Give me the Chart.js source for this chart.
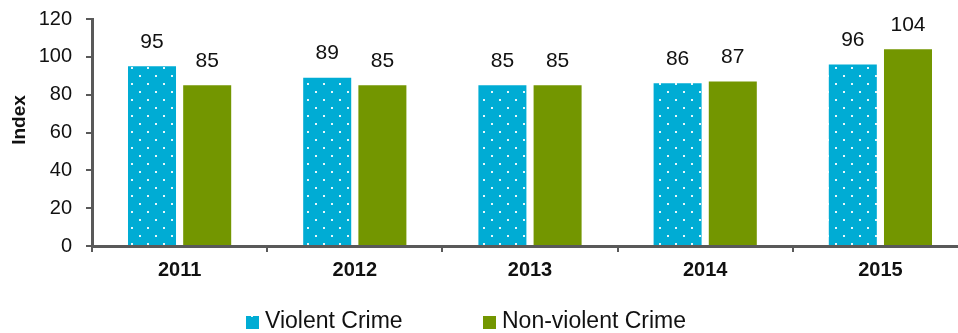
<!DOCTYPE html>
<html>
<head>
<meta charset="utf-8">
<script src="https://cdn.jsdelivr.net/npm/chart.js@4/dist/chart.umd.min.js"></script>
<style>
  html, body { margin: 0; padding: 0; background: #ffffff; overflow: hidden; }
  #wrap { position: relative; width: 968px; height: 333px; }
</style>
</head>
<body>
<div id="wrap"><canvas id="crimeChart"></canvas></div>
<script>
const years = ["2011", "2012", "2013", "2014", "2015"];
const violentCrime = [95, 89, 85, 86, 96];
const nonViolentCrime = [85, 85, 85, 87, 104];
const yTicks = [0, 20, 40, 60, 80, 100, 120];
const yTitle = "Index";

const FONT = "'Liberation Sans', Arial, sans-serif";
const AXIS_COLOR = "#595959";
const TEXT_COLOR = "#111111";

// cyan fill with a staggered grid of small white dots
function createDotPattern() {
  const tile = document.createElement("canvas");
  tile.width = 16;
  tile.height = 16;
  const ctx = tile.getContext("2d");
  ctx.fillStyle = "#00acd4";
  ctx.fillRect(0, 0, 16, 16);
  ctx.fillStyle = "rgba(255, 255, 255, 0.9)";
  ctx.fillRect(3, 3, 2, 2);
  ctx.fillRect(11, 11, 2, 2);
  return document.createElement("canvas").getContext("2d").createPattern(tile, "repeat");
}

const dotPattern = createDotPattern();

// value above every bar
const valueLabels = {
  id: "valueLabels",
  afterDatasetsDraw(chart) {
    const ctx = chart.ctx;
    ctx.save();
    ctx.font = `21px ${FONT}`;
    ctx.fillStyle = TEXT_COLOR;
    ctx.textAlign = "center";
    ctx.textBaseline = "bottom";
    chart.data.datasets.forEach((ds, i) => {
      chart.getDatasetMeta(i).data.forEach((bar, j) => {
        ctx.fillText(String(ds.data[j]), bar.x, bar.y - 14);
      });
    });
    ctx.restore();
  },
};

// rotated axis title, sitting a bit above the middle of the axis
const axisTitle = {
  id: "axisTitle",
  afterDraw(chart) {
    const ctx = chart.ctx;
    ctx.save();
    ctx.translate(20, 120);
    ctx.rotate(-Math.PI / 2);
    ctx.font = `bold 19px ${FONT}`;
    ctx.fillStyle = TEXT_COLOR;
    ctx.textAlign = "center";
    ctx.textBaseline = "middle";
    ctx.fillText(yTitle, 0, 0);
    ctx.restore();
  },
};

// legend row under the axis
const bottomLegend = {
  id: "bottomLegend",
  afterDraw(chart) {
    const ctx = chart.ctx;
    const starts = [246, 483];
    ctx.save();
    ctx.font = `23px ${FONT}`;
    ctx.textBaseline = "middle";
    ctx.textAlign = "left";
    chart.data.datasets.forEach((ds, i) => {
      const x = starts[i];
      ctx.fillStyle = ds.backgroundColor;
      ctx.fillRect(x, 316, 13, 13);
      ctx.fillStyle = TEXT_COLOR;
      ctx.fillText(ds.label, x + 19, 322);
    });
    ctx.restore();
  },
};

function createChart(id) {
  const ctx = document.getElementById(id).getContext("2d");
  return new Chart(ctx, {
    type: "bar",
    data: {
      labels: years,
      datasets: [
        {
          label: "Violent Crime",
          data: violentCrime,
          backgroundColor: dotPattern,
          barPercentage: 0.87,
          categoryPercentage: 0.63,
        },
        {
          label: "Non-violent Crime",
          data: nonViolentCrime,
          backgroundColor: "#739600",
          barPercentage: 0.87,
          categoryPercentage: 0.63,
        },
      ],
    },
    options: {
      responsive: false,
      animation: false,
      layout: { padding: { top: 19, left: 0, right: 0, bottom: 47 } },
      plugins: {
        legend: { display: false },
        tooltip: { enabled: false },
      },
      scales: {
        x: {
          offset: true,
          grid: {
            offset: true,
            drawOnChartArea: false,
            drawTicks: true,
            tickLength: 6,
            color: AXIS_COLOR,
            lineWidth: 2,
          },
          border: { display: true, color: AXIS_COLOR, width: 3 },
          ticks: {
            color: TEXT_COLOR,
            font: { family: FONT, size: 20, weight: "bold" },
            padding: 6,
          },
          afterFit(scale) {
            scale.height = 40;
          },
        },
        y: {
          min: 0,
          max: 120,
          afterBuildTicks(scale) {
            scale.ticks = yTicks.map((v) => ({ value: v }));
          },
          grid: {
            drawOnChartArea: false,
            drawTicks: true,
            tickLength: 6,
            color: AXIS_COLOR,
            lineWidth: 2,
          },
          border: { display: true, color: AXIS_COLOR, width: 3 },
          ticks: {
            color: TEXT_COLOR,
            font: { family: FONT, size: 20 },
            padding: 14,
          },
          afterFit(scale) {
            scale.width = 92;
            scale.paddingTop = 0;
            scale.paddingBottom = 0;
          },
        },
      },
    },
    plugins: [valueLabels, axisTitle, bottomLegend],
  });
}

const canvas = document.getElementById("crimeChart");
canvas.width = 968;
canvas.height = 333;
createChart("crimeChart");
</script>
</body>
</html>
